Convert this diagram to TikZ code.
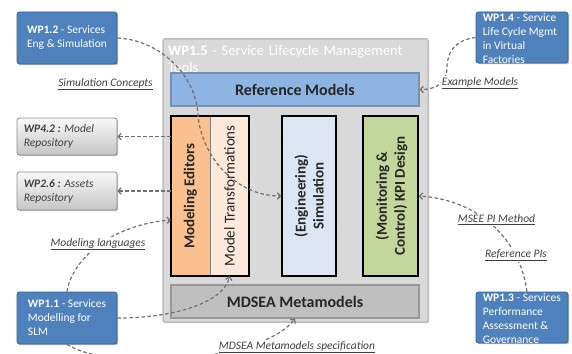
\documentclass[tikz,border=0pt]{standalone}
\usepackage{fontspec}
\setmainfont{Carlito}
\usetikzlibrary{arrows.meta,shadows}
\definecolor{wpblue}{HTML}{4F81BD}
\definecolor{wpblueb}{HTML}{3A6494}
\definecolor{contfill}{HTML}{D9D9D9}
\definecolor{contbord}{HTML}{BDBDBD}
\definecolor{refblue}{HTML}{8EB4E3}
\definecolor{refbord}{HTML}{7890AA}
\definecolor{mdfill}{HTML}{BFBFBF}
\definecolor{mdbord}{HTML}{979797}
\definecolor{orng}{HTML}{FAC090}
\definecolor{peach}{HTML}{FDE9D9}
\definecolor{paleblue}{HTML}{DCE6F2}
\definecolor{lgreen}{HTML}{C3D69B}
\definecolor{txtdark}{HTML}{262626}
\definecolor{lbltxt}{HTML}{404040}
\definecolor{dashgray}{HTML}{707070}
\definecolor{repobord}{HTML}{8C8C8C}
\begin{document}
\begin{tikzpicture}[x=1pt,y=-1pt,
  shad/.style={drop shadow={shadow xshift=1.2pt,shadow yshift=-1.2pt,opacity=0.25,fill=black}},
  wpbox/.style={draw=wpblueb,fill=wpblue,line width=0.8pt,rounded corners=2.5pt,inner sep=0pt,shad},
  wptext/.style={text=white,align=left,inner sep=0pt,font=\fontsize{11.5}{14}\selectfont},
  repobox/.style={draw=repobord,top color=white!95!gray,bottom color=gray!45,line width=0.8pt,rounded corners=2.5pt,inner sep=0pt,shad},
  repotext/.style={text=lbltxt,align=left,inner sep=0pt,font=\itshape\fontsize{11.5}{14}\selectfont},
  colbox/.style={draw=black,line width=1.6pt,inner sep=0pt},
  coltext/.style={rotate=90,align=center,text=txtdark,inner sep=0pt,font=\bfseries\fontsize{15}{18}\selectfont},
  lbl/.style={fill=white,inner sep=1pt,text=lbltxt,font=\itshape\fontsize{11.5}{14}\selectfont},
  conn/.style={draw=dashgray,line width=1.2pt,dash pattern=on 3.5pt off 2.5pt,-{Straight Barb[length=3pt,width=6.5pt]}}]
\useasboundingbox (0,0) rectangle (572,353);
\fill[white] (0,0) rectangle (572,353);
% container
\node[draw=contbord,fill=contfill,line width=1.5pt,rounded corners=1.5pt,inner sep=0pt,minimum width=265pt,minimum height=283pt,shad] (cont) at (295.5,180.5) {};
\node[anchor=north west,inner sep=0pt,text width=255pt,align=left,text=white,font=\fontsize{14.5}{17}\selectfont] (title) at (168,45) {\textbf{WP1.5} - Service Lifecycle Management Tools};
% inner boxes
\node[draw=refbord,fill=refblue,line width=1.2pt,inner sep=0pt,minimum width=248pt,minimum height=33pt,shad,text=txtdark,font=\bfseries\fontsize{16}{19}\selectfont] (ref) at (295,89.5) {Reference Models};
\node[draw=mdbord,fill=mdfill,line width=1.2pt,inner sep=0pt,minimum width=248pt,minimum height=33pt,shad,text=txtdark,font=\bfseries\fontsize{16}{19}\selectfont] (mdsea) at (295,301.5) {MDSEA Metamodels};
\node[fill=orng,inner sep=0pt,minimum width=39pt,minimum height=160pt] (moded) at (190.5,196) {};
\node[fill=peach,inner sep=0pt,minimum width=39pt,minimum height=160pt] (modtr) at (229.5,196) {};
\draw[gray,line width=0.6pt] (moded.north east) -- (moded.south east);
\draw[black,line width=1.6pt] (moded.north west) rectangle (modtr.south east);
\node[coltext] (modedt) at (moded.center) {Modeling Editors};
\node[coltext,font=\fontsize{15}{18}\selectfont] (modtrt) at (modtr.center) {Model Transformations};
\node[colbox,fill=paleblue,minimum width=54pt,minimum height=160pt] (engsim) at (309,196) {};
\node[coltext] (engsimt) at (engsim.center) {(Engineering)\\Simulation};
\node[colbox,fill=lgreen,minimum width=55pt,minimum height=160pt] (monit) at (390.5,196) {};
\node[coltext] (monitt) at ([xshift=1pt]monit.center) {(Monitoring \&\\Control) KPI Design};
% outer boxes
\node[wpbox,minimum width=100pt,minimum height=52pt] (wp12) at (67,38) {};
\node[wptext] (wp12t) at (wp12.center) {\textbf{WP1.2} - Services\\Eng \& Simulation};
\node[wpbox,minimum width=100pt,minimum height=52pt] (wp11) at (67,318) {};
\node[wptext] (wp11t) at (wp11.center) {\textbf{WP1.1} - Services\\Modelling for\\SLM};
\node[wpbox,minimum width=92pt,minimum height=51pt] (wp14) at (522,37.5) {};
\node[wptext,anchor=west] (wp14t) at ([xshift=7pt,yshift=-1pt]wp14.west) {\textbf{WP1.4} - Service\\Life Cycle Mgmt\\in Virtual\\Factories};
\node[wpbox,minimum width=92pt,minimum height=51pt] (wp13) at (522,317.5) {};
\node[wptext,anchor=west] (wp13t) at ([xshift=7pt,yshift=-1pt]wp13.west) {\textbf{WP1.3} - Services\\Performance\\Assessment \&\\Governance};
\node[repobox,minimum width=100pt,minimum height=37pt] (wp42) at (67,136.5) {};
\node[repotext,anchor=west] (wp42t) at ([xshift=7pt]wp42.west) {\textbf{WP4.2 :} Model\\Repository};
\node[repobox,minimum width=100pt,minimum height=38pt] (wp26) at (67,191) {};
\node[repotext,anchor=west] (wp26t) at ([xshift=7pt]wp26.west) {\textbf{WP2.6 :} Assets\\Repository};
% connectors
\draw[conn] (wp12.east) .. controls (160,40) and (196,75) .. (198,115) .. controls (201,155) and (235,196) .. (engsim.west);
\draw[conn] (wp14.west) .. controls (455,40) and (447,52) .. (447,68) .. controls (447,82) and (437,89.5) .. (ref.east);
\draw[conn] (moded.west |- wp42.east) -- (wp42.east);
\draw[conn] (moded.west |- wp26.east) -- (wp26.east);
\draw[conn] (wp11.north) .. controls (72,260) and (110,225) .. (moded.west |- 0,220);
\draw[conn] (wp11.east) .. controls (180,318) and (225,300) .. (modtr.south);
\draw[conn] (wp11.south) .. controls (110,372) and (262,362) .. (mdsea.south);
\draw[conn] ([xshift=5pt]wp13.north) .. controls (520,240) and (480,200) .. (monit.east);
% labels
\node[lbl] (l1) at (105.5,84) {\underline{Simulation Concepts}};
\node[lbl] (l2) at (480,83) {\underline{Example Models}};
\node[lbl] (l3) at (98,244) {\underline{Modeling languages}};
\node[lbl] (l4) at (496.5,220) {\underline{MSEE PI Method}};
\node[lbl] (l5) at (516,255) {\underline{Reference PIs}};
\node[lbl] (l6) at (297,347) {\underline{MDSEA Metamodels specification}};
\end{tikzpicture}
\end{document}
